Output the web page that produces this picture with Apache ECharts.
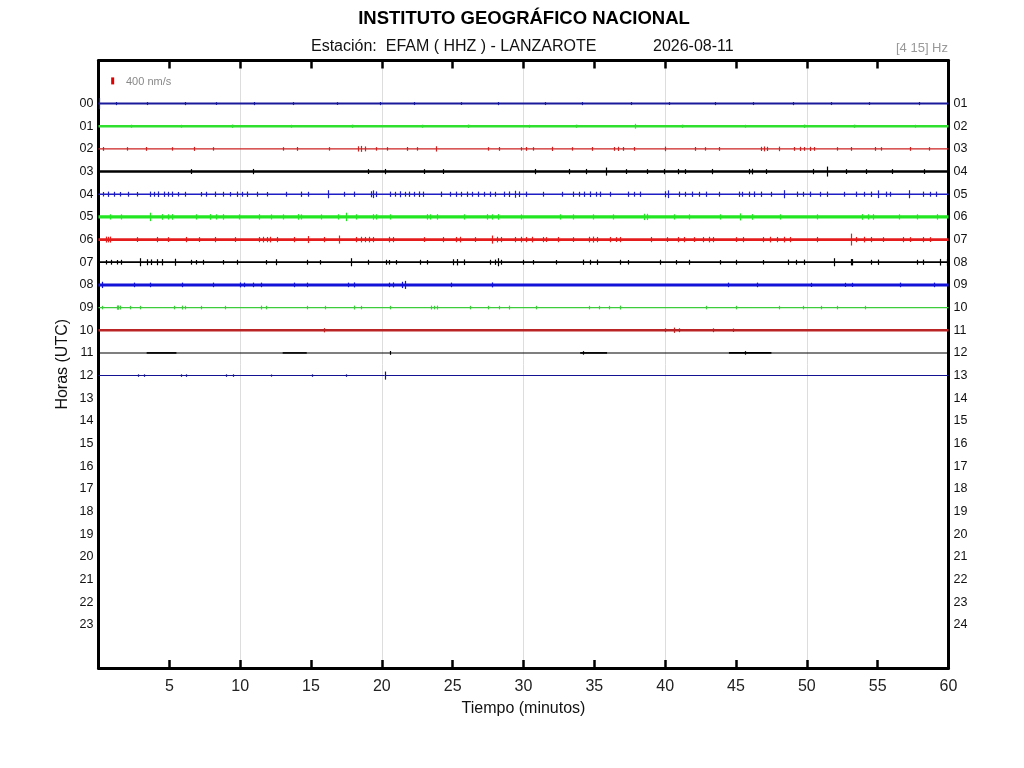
<!DOCTYPE html>
<html>
<head>
<meta charset="utf-8">
<script src="https://cdn.jsdelivr.net/npm/echarts@6/dist/echarts.min.js"></script>
<style>
html,body{margin:0;padding:0;background:#fff;}
#chart{width:1024px;height:768px;}
</style>
</head>
<body>
<div id="chart"></div>
<script>
// ---------- DATA ----------
const hoursLeft  = ['00','01','02','03','04','05','06','07','08','09','10','11','12','13','14','15','16','17','18','19','20','21','22','23'];
const hoursRight = ['01','02','03','04','05','06','07','08','09','10','11','12','13','14','15','16','17','18','19','20','21','22','23','24'];
const minuteTicks = [5,10,15,20,25,30,35,40,45,50,55,60];
const minuteGrid  = [10,20,30,40,50];

// background noise half-amplitude of each hourly trace (nm/s) and end of recorded data (minutes)
const noiseAmp   = [57, 68, 32, 72, 43, 95, 75, 50, 85, 32, 65, 30, 30];
const traceEnd   = [60, 60, 60, 60, 60, 60, 60, 60, 60, 60, 60, 60, 20.2];
// stronger noise stretches on hour 11: [start min, end min, half-amplitude nm/s]
const burstsH11 = [[3.4,5.5,48],[13.0,14.7,45],[34.0,35.9,48],[44.5,47.5,48]];

// spikes per hour: [minute, half-amplitude nm/s]
const spikesH00 = [[0.05,315],[1.2,90],[3.4,85],[6.1,90],[8.3,80],[11.0,90],[13.7,85],[16.8,80],[19.9,90],[22.3,85],[25.6,80],[28.2,90],[31.5,85],[34.1,90],[37.6,85],[40.3,80],[43.5,90],[46.2,85],[49.0,90],[51.7,85],[54.4,80],[57.9,90]];
const spikesH01 = [[2.3,90],[5.8,85],[9.4,95],[13.6,85],[17.9,90],[22.8,85],[26.1,95],[30.4,85],[33.7,90],[37.9,140],[41.2,90],[45.6,85],[49.8,95],[53.3,90],[57.6,85]];
const spikesH02 = [[0.34,110],[2.0,100],[3.35,110],[5.2,100],[6.75,115],[8.06,100],[13.0,100],[14.0,110],[16.3,100],[18.3,150],[18.5,170],[18.8,140],[19.6,100],[20.4,100],[21.8,110],[22.5,100],[23.8,150],[27.5,100],[28.3,110],[29.8,100],[30.2,110],[30.7,100],[32.0,120],[33.4,100],[34.8,110],[36.4,110],[36.7,120],[37.0,110],[37.8,110],[40.0,130],[42.1,110],[42.8,100],[43.8,110],[46.8,120],[47.0,140],[47.2,120],[48.0,130],[49.1,110],[49.5,120],[49.8,110],[50.2,120],[50.5,110],[52.1,100],[53.1,110],[54.8,110],[55.2,100],[57.3,110],[58.6,100]];
const spikesH03 = [[6.5,140],[10.9,150],[19.0,140],[20.2,150],[23.0,140],[24.3,140],[30.8,150],[33.2,150],[34.4,150],[35.8,230],[37.2,140],[38.7,140],[39.9,150],[40.9,150],[41.4,140],[43.3,150],[45.9,150],[46.1,160],[47.1,140],[50.4,150],[51.4,285],[52.8,140],[54.2,140],[56.0,140],[58.3,140]];
const spikesH04 = [[0.3,130],[0.7,150],[1.1,140],[1.5,130],[2.1,140],[2.7,130],[3.6,150],[3.9,140],[4.2,160],[4.6,150],[4.9,140],[5.2,150],[5.6,130],[6.1,140],[7.2,130],[7.6,140],[8.2,150],[8.8,140],[9.3,130],[9.75,150],[10.1,140],[10.45,150],[11.2,140],[11.9,130],[13.2,140],[14.3,150],[14.8,140],[16.2,230],[17.3,140],[18.0,150],[19.2,170],[19.4,220],[19.6,160],[20.6,150],[20.9,140],[21.3,170],[21.6,140],[21.9,150],[22.3,140],[22.6,160],[22.9,150],[24.2,150],[24.8,140],[25.2,150],[25.6,140],[26.0,150],[26.4,140],[26.8,150],[27.2,140],[27.6,150],[28.0,140],[28.6,150],[29.0,160],[29.4,200],[29.7,160],[30.2,150],[31.4,140],[32.7,140],[33.5,150],[33.9,140],[34.3,150],[34.7,160],[35.1,140],[35.4,150],[36.1,140],[37.4,150],[37.8,140],[38.2,150],[40.0,170],[40.2,220],[41.0,150],[41.4,140],[41.9,150],[42.4,140],[42.9,150],[43.8,140],[45.2,150],[45.4,140],[45.9,150],[46.3,160],[46.8,150],[47.5,140],[48.4,230],[49.3,150],[49.7,140],[50.2,150],[50.9,140],[51.4,150],[52.6,140],[53.5,150],[54.0,140],[54.5,150],[55.0,220],[55.6,150],[55.9,140],[57.2,230],[58.2,150],[58.7,140],[59.1,150]];
const spikesH05 = [[0.81,150],[1.6,150],[3.6,240],[4.5,160],[4.9,150],[5.2,160],[6.9,150],[7.9,160],[8.3,150],[8.8,160],[9.9,150],[11.3,160],[12.2,150],[13.0,150],[14.1,160],[14.3,150],[15.7,150],[16.9,150],[17.5,240],[18.2,150],[19.4,160],[19.6,150],[20.6,150],[23.2,160],[23.4,150],[23.9,160],[25.8,150],[27.4,160],[27.8,150],[28.2,160],[29.8,150],[32.6,150],[33.5,150],[34.9,150],[36.3,150],[38.5,180],[38.7,180],[40.6,150],[41.7,150],[43.9,150],[45.3,200],[46.1,160],[48.1,150],[50.7,150],[53.9,160],[54.3,150],[54.7,160],[56.5,150],[57.8,150],[59.2,160]];
const spikesH06 = [[0.5,170],[0.65,160],[0.8,170],[2.7,140],[4.1,150],[4.9,140],[6.2,150],[7.1,140],[8.2,150],[9.6,140],[11.3,150],[11.6,160],[11.9,150],[12.1,160],[12.6,150],[13.8,150],[14.8,200],[15.9,150],[17.0,230],[18.2,150],[18.5,160],[18.8,150],[19.1,160],[19.4,150],[20.5,160],[20.8,150],[23.0,140],[24.3,150],[25.2,150],[25.5,160],[26.6,140],[27.8,230],[28.1,160],[28.4,150],[29.4,150],[29.8,160],[30.2,150],[30.6,160],[31.4,150],[31.6,140],[32.4,150],[33.5,140],[34.6,160],[34.9,170],[35.2,150],[36.1,150],[36.5,140],[36.8,150],[39.0,150],[40.1,140],[40.9,150],[41.3,150],[42.0,140],[42.7,150],[43.1,160],[43.4,150],[45.0,140],[45.5,150],[46.9,150],[47.4,160],[47.9,150],[48.4,160],[48.8,150],[50.7,150],[53.1,340],[53.5,150],[54.0,160],[54.5,150],[55.4,140],[56.8,150],[57.3,140],[58.2,150],[58.7,140]];
const spikesH07 = [[0.5,130],[0.9,140],[1.3,130],[1.6,140],[2.9,230],[3.4,170],[3.7,160],[4.1,170],[4.5,180],[5.4,200],[6.5,140],[6.9,130],[7.4,140],[8.8,130],[9.75,140],[11.8,130],[12.5,170],[14.7,140],[15.6,130],[17.8,230],[19.0,140],[20.3,140],[20.5,130],[21.0,130],[22.7,140],[23.2,130],[25.0,170],[25.3,180],[25.8,160],[27.6,140],[28.0,150],[28.2,230],[28.4,140],[29.98,140],[30.7,130],[32.3,130],[34.2,150],[34.7,140],[35.2,150],[36.8,140],[37.4,130],[39.6,140],[40.8,130],[41.7,140],[43.9,130],[45.0,140],[46.9,130],[48.7,150],[49.2,140],[49.8,150],[51.9,230],[53.1,180],[53.2,180],[54.5,140],[55.0,150],[57.8,140],[58.2,150],[59.4,190],[59.9,200]];
const spikesH08 = [[0.22,180],[2.5,130],[3.6,130],[5.9,130],[8.1,130],[10.0,140],[10.3,130],[10.9,130],[11.5,130],[13.8,130],[14.7,130],[17.6,130],[18.0,140],[20.5,130],[20.8,140],[21.4,180],[21.6,230],[24.9,130],[27.8,140],[44.4,130],[46.5,130],[50.3,120],[52.7,120],[53.2,120],[56.6,130],[59.0,130]];
const spikesH09 = [[0.22,100],[1.3,120],[1.4,120],[1.5,110],[2.2,100],[2.9,100],[5.3,100],[5.9,110],[6.1,100],[7.2,100],[8.9,100],[11.5,110],[11.8,100],[14.7,100],[16.0,100],[18.0,110],[18.5,100],[20.6,100],[23.5,110],[23.7,100],[23.9,110],[26.2,100],[27.5,100],[28.3,100],[29.0,110],[30.9,100],[34.6,100],[35.3,100],[36.0,100],[36.8,110],[42.9,100],[45.0,100],[48.0,100],[49.7,100],[51.0,100],[52.1,100],[54.1,100]];
const spikesH10 = [[15.9,120],[40.0,110],[40.6,150],[41.0,110],[43.4,110],[44.8,100]];
const spikesH11 = [[20.6,110],[34.2,100],[45.6,100]];
const spikesH12 = [[2.8,70],[3.2,70],[5.8,70],[6.2,70],[9.0,70],[9.5,70],[12.2,60],[15.1,70],[17.5,70],[20.2,230]];

const scaleBarNms = 400;   // amplitude scale marker (nm/s)

// ---------- STYLE ----------
const ROW_NMS = 1295;      // nm/s per hourly row spacing
const rowColors = ['#1a1a9c','#2fe02f','#cc2222','#000000','#1e1ec4','#22e622','#e41c1c','#000000','#1212d8','#3ccc3c','#bb2424','#000000','#121292'];
const FONT = 'Liberation Sans, Arial, sans-serif';

// ---------- BUILD SERIES DATA ----------
const spikeLists = [spikesH00,spikesH01,spikesH02,spikesH03,spikesH04,spikesH05,spikesH06,spikesH07,spikesH08,spikesH09,spikesH10,spikesH11,spikesH12];
const bandData = [];
noiseAmp.forEach((a, r) => {
  bandData.push([0, traceEnd[r], r, a]);
  if (traceEnd[r] < 60) bandData.push([traceEnd[r], 60, r, 0]);
});
burstsH11.forEach(b => bandData.push([b[0], b[1], 11, b[2]]));
const spikeData = [];
spikeLists.forEach((lst, r) => lst.forEach(s => spikeData.push([s[0], r, s[1]])));

const chart = echarts.init(document.getElementById('chart'), null, {renderer: 'canvas'});

function bandItem(params, api) {
  const x0 = api.value(0), x1 = api.value(1), r = api.value(2), a = api.value(3) / ROW_NMS;
  const pA = api.coord([x0, r - a]);
  const pB = api.coord([x1, r + a]);
  const pc = api.coord([x0, r]);
  const h = Math.max(1, Math.abs(pB[1] - pA[1]));
  return {
    type: 'rect',
    shape: {x: pA[0], y: pc[1] - h / 2, width: pB[0] - pA[0], height: h},
    style: {fill: rowColors[r]}
  };
}
function spikeItem(params, api) {
  const x = api.value(0), r = api.value(1), a = api.value(2) / ROW_NMS;
  const p0 = api.coord([x, r - a]);
  const p1 = api.coord([x, r + a]);
  const px = Math.round(p0[0]) + 0.5;
  return {
    type: 'line',
    shape: {x1: px, y1: p0[1], x2: px, y2: p1[1]},
    style: {stroke: rowColors[r], lineWidth: 1.2}
  };
}
function scaleItem(params, api) {
  const x = api.value(0), r = api.value(1), a = api.value(2) / ROW_NMS;
  const p0 = api.coord([x, r - a / 2]);
  const p1 = api.coord([x, r + a / 2]);
  return {
    type: 'rect',
    shape: {x: p0[0] - 1.5, y: Math.min(p0[1], p1[1]), width: 3, height: Math.abs(p1[1] - p0[1])},
    style: {fill: '#e00000'}
  };
}

const axisLineStyle = {show: true, onZero: false, lineStyle: {color: '#000', width: 3}};
const hourValues = hoursLeft.map((h, i) => i);

chart.setOption({
  animation: false,
  backgroundColor: '#fff',
  grid: {left: 98.5, right: 75.5, top: 60.5, bottom: 100, containLabel: false},
  graphic: [
    {type: 'text', x: 524, y: 19, style: {text: 'INSTITUTO GEOGRÁFICO NACIONAL', font: 'bold 18.5px ' + FONT, fill: '#000', textAlign: 'center', textVerticalAlign: 'middle'}},
    {type: 'text', x: 311, y: 47, style: {text: 'Estación:  EFAM ( HHZ ) - LANZAROTE', font: '16px ' + FONT, fill: '#111', textAlign: 'left', textVerticalAlign: 'middle'}},
    {type: 'text', x: 653, y: 47, style: {text: '2026-08-11', font: '16px ' + FONT, fill: '#111', textAlign: 'left', textVerticalAlign: 'middle'}},
    {type: 'text', x: 948, y: 48, style: {text: '[4 15] Hz', font: '13px ' + FONT, fill: '#999', textAlign: 'right', textVerticalAlign: 'middle'}},
    {type: 'text', x: 126, y: 82, style: {text: scaleBarNms + ' nm/s', font: '11px ' + FONT, fill: '#888', textAlign: 'left', textVerticalAlign: 'middle'}}
  ],
  xAxis: [
    {
      type: 'value', min: 0, max: 60, interval: 5, position: 'bottom',
      axisLine: axisLineStyle,
      axisTick: {show: true, inside: true, length: 8, customValues: minuteTicks, lineStyle: {color: '#000', width: 2.5}},
      axisLabel: {show: true, customValues: minuteTicks, fontSize: 16, color: '#222', fontFamily: FONT, margin: 11},
      splitLine: {show: false},
      name: 'Tiempo (minutos)', nameLocation: 'middle', nameGap: 33,
      nameTextStyle: {fontSize: 16, color: '#111', fontFamily: FONT}
    },
    {
      type: 'value', min: 0, max: 60, interval: 5, position: 'top',
      axisLine: axisLineStyle,
      axisTick: {show: true, inside: true, length: 8, customValues: minuteTicks.slice(0, -1), lineStyle: {color: '#000', width: 2.5}},
      axisLabel: {show: false},
      splitLine: {show: false}
    },
    {
      type: 'value', min: 0, max: 60, interval: 10, position: 'top',
      axisLine: {show: false},
      axisTick: {show: false, customValues: minuteGrid},
      axisLabel: {show: false, customValues: minuteGrid},
      splitLine: {show: true, lineStyle: {color: '#dddddd', width: 1}}
    }
  ],
  yAxis: [
    {
      type: 'value', inverse: true, min: -1.9, max: 24.9, position: 'left',
      axisLine: axisLineStyle,
      axisTick: {show: false},
      axisLabel: {show: true, customValues: hourValues, formatter: v => hoursLeft[Math.round(v)], fontSize: 12.5, color: '#111', fontFamily: FONT, margin: 5},
      splitLine: {show: false},
      name: 'Horas (UTC)', nameLocation: 'middle', nameGap: 28, nameMoveOverlap: false,
      nameTextStyle: {fontSize: 16, color: '#111', fontFamily: FONT}
    },
    {
      type: 'value', inverse: true, min: -1.9, max: 24.9, position: 'right',
      axisLine: axisLineStyle,
      axisTick: {show: false},
      axisLabel: {show: true, customValues: hourValues, formatter: v => hoursRight[Math.round(v)], fontSize: 12.5, color: '#111', fontFamily: FONT, margin: 5},
      splitLine: {show: false}
    }
  ],
  series: [
    {type: 'custom', name: 'noise', xAxisIndex: 0, yAxisIndex: 0, renderItem: bandItem, data: bandData, encode: {x: [0, 1], y: 2}, z: 3, silent: true},
    {type: 'custom', name: 'spikes', xAxisIndex: 0, yAxisIndex: 0, renderItem: spikeItem, data: spikeData, encode: {x: 0, y: 1}, z: 4, silent: true},
    {type: 'custom', name: 'scale', xAxisIndex: 0, yAxisIndex: 0, renderItem: scaleItem, data: [[1.0, -1.0, scaleBarNms]], encode: {x: 0, y: 1}, z: 4, silent: true}
  ]
});
</script>
</body>
</html>
